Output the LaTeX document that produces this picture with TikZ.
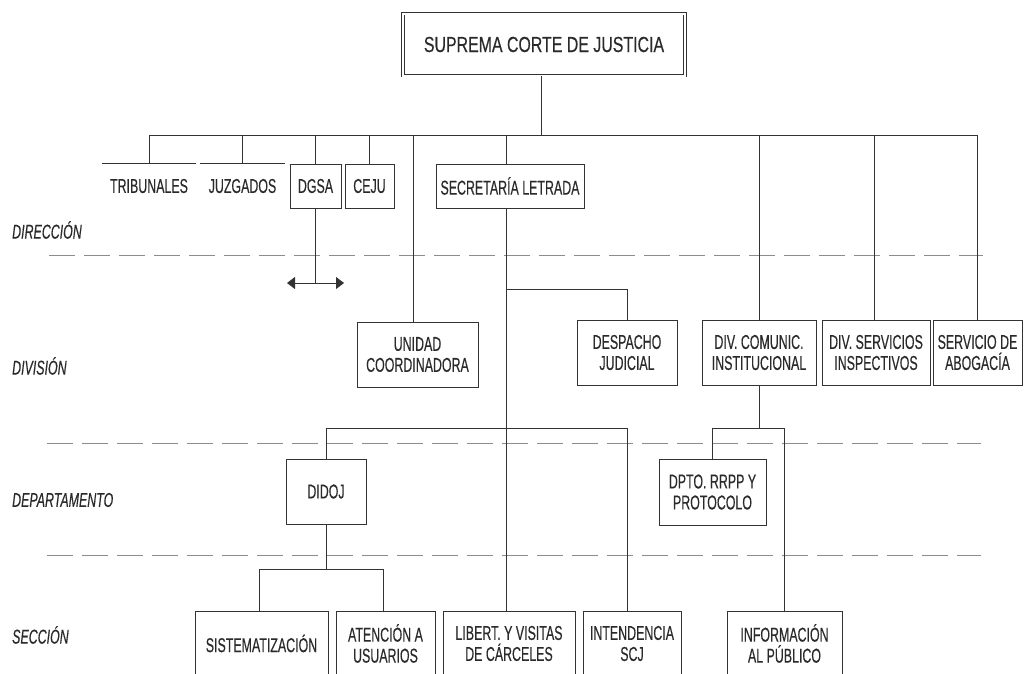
\documentclass[tikz,border=0pt]{standalone}
\usepackage{fontspec}
\setmainfont[FakeStretch=0.62,FakeBold=0.35]{Liberation Sans}
\newfontfamily\topfont[FakeStretch=0.73,FakeBold=0.35]{Liberation Sans}
\usetikzlibrary{arrows.meta}
\definecolor{ink}{HTML}{2a2a2a}
\definecolor{linec}{HTML}{333333}
\definecolor{dashc}{HTML}{8c8c8c}
\begin{document}
\begin{tikzpicture}[x=1pt,y=-1pt,
  every node/.style={text=ink, font=\fontsize{20}{21}\selectfont},
  box/.style={draw=linec, line width=0.9pt, align=center, inner sep=0pt},
  plain/.style={align=center, inner sep=0pt},
  conn/.style={draw=linec, line width=0.9pt},
  dashline/.style={draw=dashc, line width=0.9pt, dash pattern=on 26pt off 9pt},
  lvl/.style={anchor=west, inner sep=0pt, font=\fontsize{20}{21}\selectfont\itshape},
]
\useasboundingbox (0,0) rectangle (1031,673);
\clip (0,0) rectangle (1031,673);

% level separators
\draw[dashline] (49,255) -- (983,255);
\draw[dashline] (47,443) -- (981,443);
\draw[dashline] (47,555) -- (981,555);

% level labels
\node[lvl] (ldir) at (12,230) {DIRECCIÓN};
\node[lvl] (ldiv) at (12,366) {DIVISIÓN};
\node[lvl] (ldep) at (12,500) {DEPARTAMENTO};
\node[lvl] (lsec) at (12,635) {SECCIÓN};

% top
\node[box, double, double distance=2pt, minimum width=282pt, minimum height=62pt,
      font=\topfont\fontsize{21.8}{24}\selectfont] (scj) at (544,44.5) {SUPREMA CORTE DE JUSTICIA};

% direccion row
\node[plain, minimum width=94pt, minimum height=44pt] (trib) at (149,186) {TRIBUNALES};
\node[plain, minimum width=85pt, minimum height=44pt] (juz) at (242.5,186) {JUZGADOS};
\node[box, minimum width=51pt, minimum height=44pt] (dgsa) at (315.5,186) {DGSA};
\node[box, minimum width=49pt, minimum height=44pt] (ceju) at (369.5,186) {CEJU};
\node[box, minimum width=148pt, minimum height=44pt] (secr) at (510,186) {SECRETARÍA LETRADA};

% division row
\node[box, minimum width=121pt, minimum height=65pt] (unidad) at (417.5,354.5) {UNIDAD\\COORDINADORA};
\node[box, minimum width=100pt, minimum height=65pt] (despacho) at (627,352.5) {DESPACHO\\JUDICIAL};
\node[box, minimum width=114pt, minimum height=65pt] (divcom) at (759,352.5) {DIV. COMUNIC.\\INSTITUCIONAL};
\node[box, minimum width=108pt, minimum height=65pt] (divserv) at (876,352.5) {DIV. SERVICIOS\\INSPECTIVOS};
\node[box, minimum width=89pt, minimum height=65pt] (abog) at (977.5,352.5) {SERVICIO DE\\ABOGACÍA};

% departamento row
\node[box, minimum width=80pt, minimum height=65pt] (didoj) at (326,491.5) {DIDOJ};
\node[box, minimum width=107pt, minimum height=66pt] (dpto) at (712.5,492) {DPTO. RRPP Y\\PROTOCOLO};

% seccion row
\node[box, minimum width=133pt, minimum height=65pt] (sist) at (261.5,643.5) {SISTEMATIZACIÓN};
\node[box, minimum width=99pt, minimum height=65pt] (aten) at (385.5,643.5) {ATENCIÓN A\\USUARIOS};
\node[box, minimum width=132pt, minimum height=65pt] (libert) at (509,643.5) {LIBERT. Y VISITAS\\DE CÁRCELES};
\node[box, minimum width=98pt, minimum height=65pt] (inten) at (632,643.5) {INTENDENCIA\\SCJ};
\node[box, minimum width=115pt, minimum height=65pt] (info) at (784.5,643.5) {INFORMACIÓN\\AL PÚBLICO};

% bus coordinates
\coordinate (bus) at (0,135);
\coordinate (b1) at (0,289);
\coordinate (b2) at (0,428);
\coordinate (b3) at (0,569);
\coordinate (ay) at (0,283);

% connectors
\draw[conn] ([xshift=-3pt]scj.south) -- ([xshift=-3pt]scj.south |- bus);
\draw[conn] (trib.north |- bus) -- (abog.north |- bus);
\draw[conn] (trib.north west) -- (trib.north east);
\draw[conn] (juz.north west) -- (juz.north east);
\draw[conn] (trib.north |- bus) -- (trib.north);
\draw[conn] (juz.north |- bus) -- (juz.north);
\draw[conn] (dgsa.north |- bus) -- (dgsa.north);
\draw[conn] (ceju.north |- bus) -- (ceju.north);
\draw[conn] ([xshift=-4.5pt]unidad.north |- bus) -- ([xshift=-4.5pt]unidad.north);
\draw[conn] ([xshift=-4pt]secr.north |- bus) -- ([xshift=-4pt]secr.north);
\draw[conn] (divcom.north |- bus) -- (divcom.north);
\draw[conn] ([xshift=-2pt]divserv.north |- bus) -- ([xshift=-2pt]divserv.north);
\draw[conn] (abog.north |- bus) -- (abog.north);

% DGSA arrow
\draw[conn] (dgsa.south) -- (dgsa.south |- ay);
\draw[conn, {Triangle[length=8pt,width=12pt]}-{Triangle[length=8pt,width=12pt]}]
  ([xshift=-28.5pt]dgsa.south |- ay) -- ([xshift=28.5pt]dgsa.south |- ay);

% secretaria spine
\draw[conn] ([xshift=-4pt]secr.south) -- ([xshift=-4pt]secr.south |- libert.north);
\draw[conn] ([xshift=-4pt]secr.south |- b1) -| (despacho.north);
\draw[conn] (didoj.north) |- ([xshift=-4.7pt]inten.north |- b2) -- ([xshift=-4.7pt]inten.north);

% didoj
\draw[conn] (didoj.south) -- (didoj.south |- b3);
\draw[conn] ([xshift=-2.5pt]sist.north) |- ([xshift=-2.5pt]aten.north |- b3) -- ([xshift=-2.5pt]aten.north);

% div comunic
\draw[conn] (divcom.south) -- (divcom.south |- b2);
\draw[conn] (dpto.north) |- (info.north |- b2) -- (info.north);
\end{tikzpicture}
\end{document}
